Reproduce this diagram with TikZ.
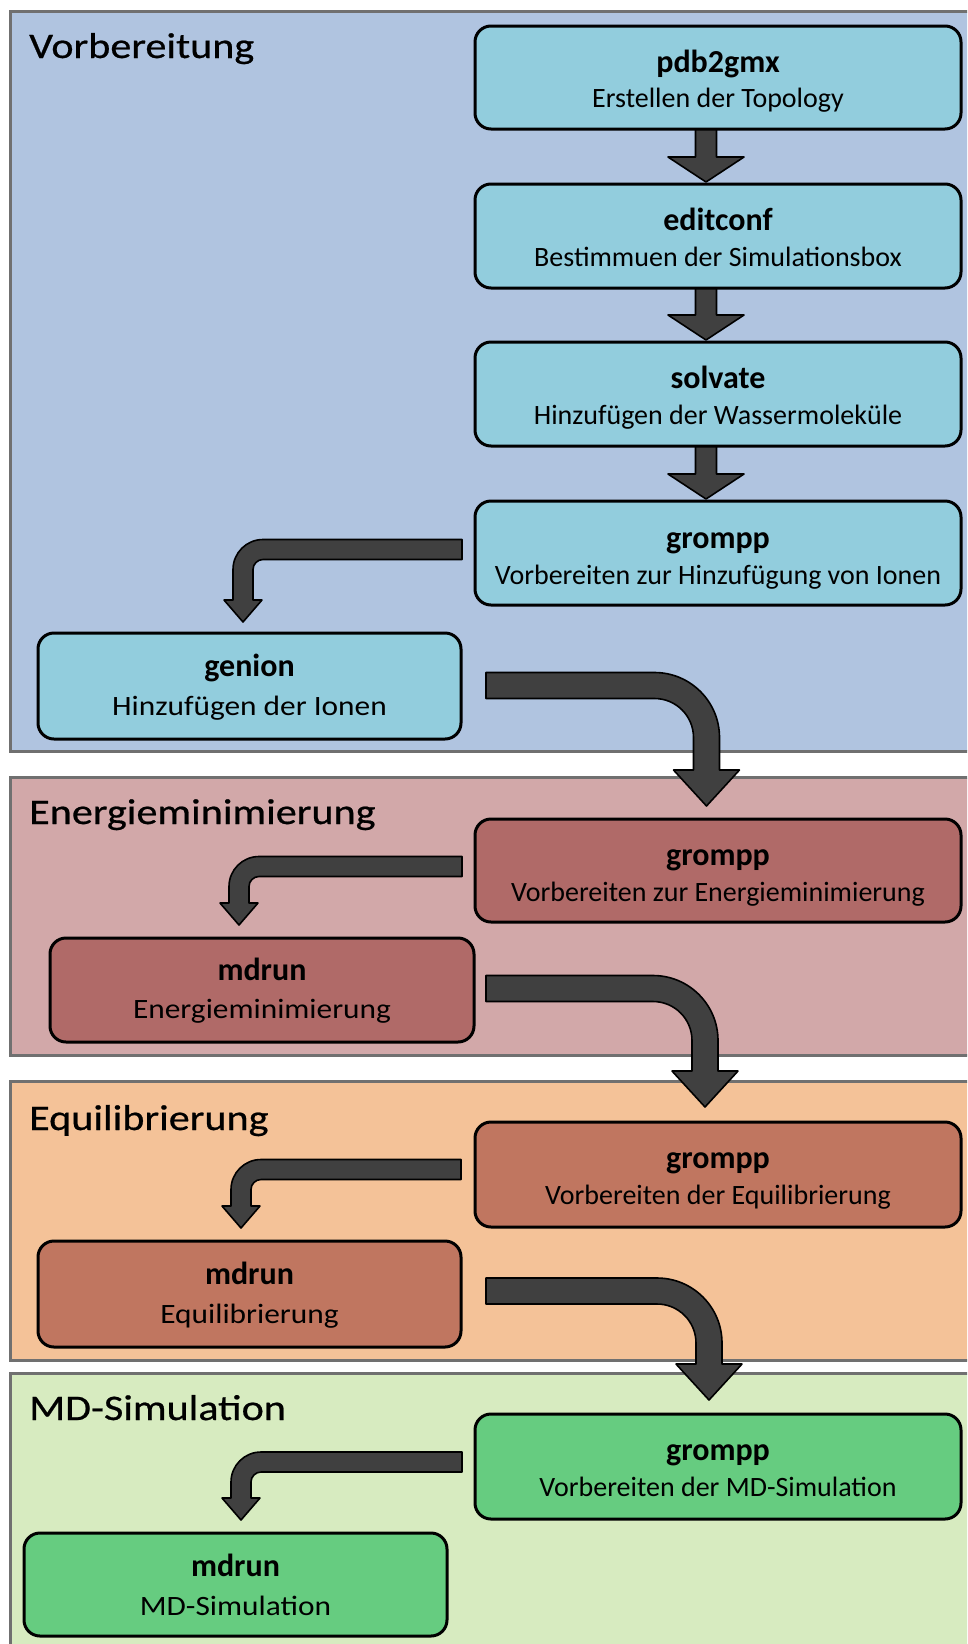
\documentclass[tikz,border=0pt]{standalone}
\usepackage{fontspec}
\setmainfont{Carlito}
\newfontfamily\widefont{Carlito}[FakeStretch=1.12]
\newfontfamily\titlefont{Carlito}[FakeStretch=1.17,FakeBold=0.6]
\usetikzlibrary{calc}
\definecolor{pvor}{RGB}{176,196,224}
\definecolor{bvor}{RGB}{146,205,221}
\definecolor{pem}{RGB}{210,168,169}
\definecolor{bem}{RGB}{176,106,104}
\definecolor{peq}{RGB}{244,194,152}
\definecolor{beq}{RGB}{192,118,96}
\definecolor{pmd}{RGB}{215,235,192}
\definecolor{bmd}{RGB}{102,204,128}
\definecolor{arr}{RGB}{64,64,64}
\definecolor{pborder}{RGB}{112,112,112}
\tikzset{
  panel/.style={draw=pborder, line width=3pt},
  boxbase/.style={draw=black, line width=3pt, rounded corners=16pt, inner sep=0pt, outer sep=0pt},
  rbox/.style={boxbase, minimum width=486pt, minimum height=104pt},
  lbox/.style={boxbase, minimum width=423pt, minimum height=105pt},
  headtxt/.style={font=\fontsize{32pt}{36pt}\selectfont\bfseries, inner sep=0pt, anchor=base},
  subtxt/.style={font=\fontsize{28pt}{32pt}\selectfont, inner sep=0pt, anchor=base},
  widetxt/.style={font=\widefont\fontsize{28pt}{32pt}\selectfont, inner sep=0pt, anchor=base},
  titletxt/.style={font=\titlefont\fontsize{36pt}{40pt}\selectfont, inner sep=0pt, anchor=base west},
  arrowshape/.style={fill=arr, draw=black, line width=1.6pt, line join=round},
}
% straight down arrow: xc, y0, tip y
\newcommand\straightArrow[3]{%
  \filldraw[arrowshape] ({#1-10.5},#2) -- ({#1-10.5},{#3-25}) -- ({#1-38},{#3-25}) -- (#1,#3)
    -- ({#1+38},{#3-25}) -- ({#1+10.5},{#3-25}) -- ({#1+10.5},#2) -- cycle;}
% big arrow right then down: x0, centre y, centre x of vertical, tip y
\newcommand\bigArrow[4]{%
  \filldraw[arrowshape] (#1,{#2-13}) -- ({#3-52},{#2-13}) arc[start angle=-90,end angle=0,radius=65]
    -- ({#3+13},{#4-36}) -- ({#3+33},{#4-36}) -- (#3,#4) -- ({#3-33},{#4-36}) -- ({#3-13},{#4-36})
    -- ({#3-13},{#2+52}) arc[start angle=0,end angle=-90,radius=39] -- (#1,{#2+13}) -- cycle;}
% small arrow left then down: x0, centre y, centre x of vertical, tip y
\newcommand\smallArrow[4]{%
  \filldraw[arrowshape] (#1,{#2-10}) -- ({#3+20},{#2-10}) arc[start angle=-90,end angle=-180,radius=30]
    -- ({#3-10},{#4-22}) -- ({#3-19},{#4-22}) -- (#3,#4) -- ({#3+19},{#4-22}) -- ({#3+10},{#4-22})
    -- ({#3+10},{#2+20}) arc[start angle=180,end angle=270,radius=10] -- (#1,{#2+10}) -- cycle;}
\begin{document}
\begin{tikzpicture}[x=1pt,y=-1pt]
\useasboundingbox (0,0) rectangle (967,1644);
\clip (0,0) rectangle (967,1644);
\fill[white] (0,0) rectangle (967,1644);
% panels
\filldraw[panel, fill=pvor] (10.5,11.5) rectangle (1000,751);
\filldraw[panel, fill=pem] (10.5,777.5) rectangle (1000,1055.5);
\filldraw[panel, fill=peq] (10.5,1081.5) rectangle (1000,1360.5);
\filldraw[panel, fill=pmd] (10.5,1373.5) rectangle (1000,1700);
% titles
\node[titletxt] (t1) at (29,58) {Vorbereitung};
\node[titletxt] (t2) at (29,824) {Energieminimierung};
\node[titletxt] (t3) at (29,1130) {Equilibrierung};
\node[titletxt] (t4) at (29,1420) {MD-Simulation};
% arrows
\straightArrow{706}{124}{182}
\straightArrow{706}{283}{340}
\straightArrow{706}{441}{499}
\smallArrow{462}{549.5}{243}{622}
\bigArrow{486}{685.5}{706.5}{806}
\smallArrow{462}{866.5}{239}{925}
\bigArrow{486}{988.5}{705}{1107}
\smallArrow{461}{1169.5}{241}{1228}
\bigArrow{486}{1291}{709}{1400}
\smallArrow{462}{1462}{241}{1520}
% boxes
\node[rbox, fill=bvor, minimum height=103pt] (b1) at (718,77.5) {};
\node[rbox, fill=bvor] (b2) at (718,236) {};
\node[rbox, fill=bvor] (b3) at (718,394) {};
\node[rbox, fill=bvor] (b4) at (718,553) {};
\node[lbox, fill=bvor, minimum height=106pt] (b5) at (249.5,686) {};
\node[rbox, fill=bem, minimum height=103pt] (b6) at (718,870.5) {};
\node[lbox, fill=bem, minimum width=424pt, minimum height=104pt] (b7) at (262,990) {};
\node[rbox, fill=beq, minimum height=105pt] (b8) at (718,1174.5) {};
\node[lbox, fill=beq, minimum height=106pt] (b9) at (249.5,1294) {};
\node[rbox, fill=bmd, minimum height=105pt] (b10) at (718,1466.5) {};
\node[lbox, fill=bmd, minimum height=103pt] (b11) at (235.5,1584.5) {};
% box texts
\node[headtxt] (b1a) at ($(b1.north)+(0,46)$) {pdb2gmx};
\node[subtxt] (b1b) at ($(b1.north)+(0,81)$) {Erstellen der Topology};
\node[headtxt] (b2a) at ($(b2.north)+(0,46)$) {editconf};
\node[subtxt] (b2b) at ($(b2.north)+(0,82)$) {Bestimmuen der Simulationsbox};
\node[headtxt] (b3a) at ($(b3.north)+(0,46)$) {solvate};
\node[subtxt] (b3b) at ($(b3.north)+(0,82)$) {Hinzufügen der Wassermoleküle};
\node[headtxt] (b4a) at ($(b4.north)+(0,47)$) {grompp};
\node[subtxt] (b4b) at ($(b4.north)+(0,83)$) {Vorbereiten zur Hinzufügung von Ionen};
\node[headtxt] (b5a) at ($(b5.north)+(0,43)$) {genion};
\node[widetxt] (b5b) at ($(b5.north)+(0,82)$) {Hinzufügen der Ionen};
\node[headtxt] (b6a) at ($(b6.north)+(0,46)$) {grompp};
\node[subtxt] (b6b) at ($(b6.north)+(0,82)$) {Vorbereiten zur Energieminimierung};
\node[headtxt] (b7a) at ($(b7.north)+(0,42)$) {mdrun};
\node[widetxt] (b7b) at ($(b7.north)+(0,80)$) {Energieminimierung};
\node[headtxt] (b8a) at ($(b8.north)+(0,46)$) {grompp};
\node[subtxt] (b8b) at ($(b8.north)+(0,82)$) {Vorbereiten der Equilibrierung};
\node[headtxt] (b9a) at ($(b9.north)+(0,43)$) {mdrun};
\node[widetxt] (b9b) at ($(b9.north)+(0,82)$) {Equilibrierung};
\node[headtxt] (b10a) at ($(b10.north)+(0,46)$) {grompp};
\node[subtxt] (b10b) at ($(b10.north)+(0,82)$) {Vorbereiten der MD-Simulation};
\node[headtxt] (b11a) at ($(b11.north)+(0,43)$) {mdrun};
\node[widetxt] (b11b) at ($(b11.north)+(0,82)$) {MD-Simulation};
\end{tikzpicture}
\end{document}
